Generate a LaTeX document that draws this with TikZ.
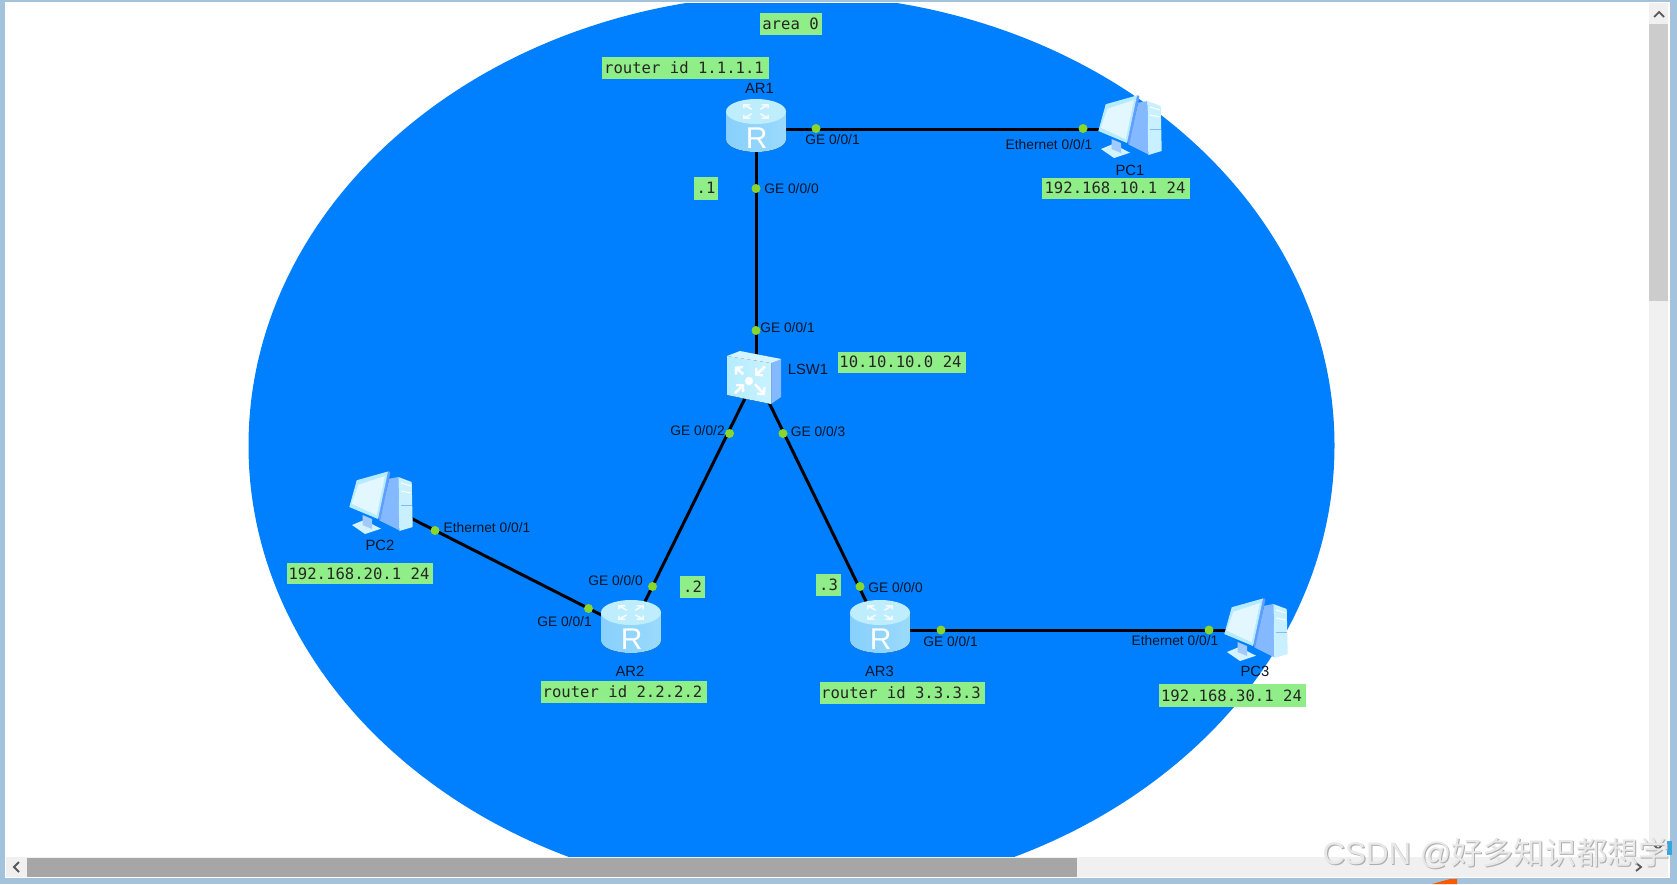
\documentclass[tikz,border=0pt]{standalone}
\usepackage{fontspec}
\setmainfont{Liberation Sans}
\newfontfamily\monof{DejaVu Sans Mono}
\newfontfamily\cjkf{Noto Sans CJK SC}
\usetikzlibrary{calc,arrows.meta}
\definecolor{winblue}{HTML}{A3C2DC}
\definecolor{skyb}{HTML}{0080FF}
\definecolor{tagg}{HTML}{90EE88}
\definecolor{dotg}{HTML}{8AD62A}
\definecolor{inkc}{HTML}{0A1526}
\definecolor{iceA}{HTML}{88D0FC}
\definecolor{iceB}{HTML}{B4ECFF}
\definecolor{iceC}{HTML}{9ADAFC}
\definecolor{iceT}{HTML}{BEEDFD}
\definecolor{paleS}{HTML}{E2F7FF}
\definecolor{frameC}{HTML}{B5EAFF}
\definecolor{sideB}{HTML}{84B9FF}
\definecolor{edgeB}{HTML}{5F9EFF}
\definecolor{frontC}{HTML}{C8F0FF}
\tikzset{
  x=1pt,y=-1pt,
  tag/.style={fill=tagg,draw=none,font=\monof\fontsize{15.6}{16}\selectfont,text=black!85,inner sep=0pt,anchor=center},
  port/.style={font=\fontsize{13.8}{14}\selectfont,text=inkc,inner sep=0pt,anchor=center},
  devname/.style={font=\fontsize{14.8}{15}\selectfont,text=inkc,inner sep=0pt,anchor=center},
  portdot/.style={circle,fill=dotg,draw=none,minimum size=9pt,inner sep=0pt},
  link/.style={line width=3pt,draw=black},
  router/.pic={
    \fill[left color=iceA,middle color=iceB,right color=iceC]
       (-30,-17.5) -- (-30,10.5) arc[start angle=180,end angle=360,x radius=30pt,y radius=12.5pt] -- (30,-17.5) -- cycle;
    \fill[iceT] (0,-17.5) ellipse[x radius=30pt,y radius=12.5pt];
    \foreach \a in {45,135,225,315}{
      \begin{scope}[shift={(0,-17.5)},yscale=.55,rotate=\a]
        \draw[white!85!iceT,line width=1.5pt] (6,0) -- (17,0) (12.5,-4.5) -- (17,0) -- (12.5,4.5);
      \end{scope}
    }
    \node[inner sep=0pt,text=white,font=\fontsize{30}{30}\selectfont] at (0.7,9) {R};
  },
  pcicon/.pic={
    \fill[sideB] (8.3,-24.3) -- (17.3,-26) -- (18.3,27.3) -- (-1.7,17.3) -- cycle;
    \fill[frontC] (17.3,-26) -- (30.7,-21) -- (31.7,24) -- (18.3,28) -- cycle;
    \draw[white,line width=1pt] (20,-20) -- (30,-17) (20,-12) -- (30,-10);
    \draw[sideB,line width=.8pt] (20,2) -- (31,2);
    \fill[frontC!80!white] (-29,22) -- (-17,17) -- (0,25.7) -- (-16,31) -- cycle;
    \fill[sideB!75!white] (-18.5,12) -- (-9,16) -- (-9,26) -- (-18.5,22) -- cycle;
    \fill[edgeB] (-24.3,-22.7) -- (8.3,-31.7) -- (9.3,-30) -- (-0.7,17) -- (-1.7,16.3) -- cycle;
    \fill[frameC] (-24.3,-22.7) -- (7,-31.5) -- (-3,16) -- (-31.7,4) -- cycle;
    \fill[paleS] (-22.7,-18.3) -- (4,-27) -- (-4.3,12.3) -- (-29.3,.7) -- cycle;
  }
}
\begin{document}
\begin{tikzpicture}
\useasboundingbox (0,0) rectangle (1677,884);
\fill[winblue] (0,0) rectangle (1677,884);
\fill[white] (5,2) rectangle (1670,878);
\begin{scope}
  \clip (6,3) rectangle (1649,857);
  \fill[skyb] (791.5,445.5) ellipse[x radius=543pt,y radius=451pt];
\end{scope}
% scrollbars
\fill[black!6] (1649,3) rectangle (1668,857);
\fill[black!6] (6,857) rectangle (1668,877);
\fill[black!20] (1649,24) rectangle (1668,301);
\fill[black!35] (27,858) rectangle (1077,877);
\draw[black!65,line width=1.8pt] (1654,17) -- (1659,12) -- (1664,17);
\draw[black!65,line width=1.8pt] (19,862) -- (14,867) -- (19,872);
\draw[black!65,line width=1.8pt] (1636,863) -- (1641,867) -- (1636,871);
\draw[black!65,line width=1.8pt] (1654,845) -- (1658,849) -- (1662,845);
\fill[cyan!80!blue!80] (1667,841) rectangle (1672,855);
\fill[orange!70!red] (1432,884) -- (1450,879) -- (1457,879) -- (1457,884) -- cycle;

% device anchors
\coordinate (ar1) at (756,129);
\coordinate (ar2) at (631,630);
\coordinate (ar3) at (880,630);
\coordinate (lsw) at (756,376);
\coordinate (pc1) at (1130,127);
\coordinate (pc2) at (381,503);
\coordinate (pc3) at (1256,630);

% links
\draw[link] (ar1) -- (pc1 |- ar1);
\draw[link] (ar1) -- (lsw);
\draw[link] (lsw) -- (ar2);
\draw[link] (lsw) -- (ar3);
\draw[link] (pc2) -- (ar2);
\draw[link] (ar3) -- (pc3);

% devices
\pic at (ar1) {router};
\pic at (ar2) {router};
\pic at (ar3) {router};
\pic at (pc1) {pcicon};
\pic at (pc2) {pcicon};
\pic at (pc3) {pcicon};
% switch
\begin{scope}[shift={(lsw)}]
  \fill[sideB] (13,-19) -- (25,-17) -- (25,21) -- (15,28) -- cycle;
  \fill[left color=iceB,right color=iceB!70!white] (-29,-20) -- (15,-13) -- (15,28) -- (-29,19) -- cycle;
  \fill[paleS!70!iceB] (-29,-20) -- (-16,-25) -- (25,-17) -- (15,-13) -- cycle;
  \fill[white] (-7,5) circle (4.2pt);
  \draw[white,line width=2.6pt,-{Straight Barb[length=4.5pt,width=10pt,line width=2.4pt]}] (-12.7,-1.7) -- (-21,-9.3);
  \draw[white,line width=2.6pt,-{Straight Barb[length=4.5pt,width=10pt,line width=2.4pt]}] (9,-9.3) -- (-1,-0.3);
  \draw[white,line width=2.6pt,-{Straight Barb[length=4.5pt,width=10pt,line width=2.4pt]}] (-21,17.3) -- (-12,8.3);
  \draw[white,line width=2.6pt,-{Straight Barb[length=4.5pt,width=10pt,line width=2.4pt]}] (-1,8.3) -- (9,19);
\end{scope}

% ports
\node[portdot] (d1) at (816,128.5) {};
\node[portdot] (d2) at (756,188.5) {};
\node[portdot] (d3) at (1083,128.5) {};
\node[portdot] (d4) at (756,330.5) {};
\node[portdot] (d5) at (729.5,433.5) {};
\node[portdot] (d6) at (783,433.5) {};
\node[portdot] (d7) at (652.5,586.5) {};
\node[portdot] (d8) at (860,586.5) {};
\node[portdot] (d9) at (588.5,608.5) {};
\node[portdot] (d10) at (435,530.5) {};
\node[portdot] (d11) at (941,630) {};
\node[portdot] (d12) at (1209,630) {};

\node[port] (p1) at (832.5,140) {GE 0/0/1};
\node[port] (p2) at (791.5,189) {GE 0/0/0};
\node[port] (p3) at (1049,145) {Ethernet 0/0/1};
\node[port] (p4) at (787.5,328) {GE 0/0/1};
\node[port] (p5) at (697.5,431) {GE 0/0/2};
\node[port] (p6) at (818,432) {GE 0/0/3};
\node[port] (p7) at (487,528) {Ethernet 0/0/1};
\node[port] (p8) at (615.5,581) {GE 0/0/0};
\node[port] (p9) at (564.5,622) {GE 0/0/1};
\node[port] (p10) at (895.5,588) {GE 0/0/0};
\node[port] (p11) at (950.5,642) {GE 0/0/1};
\node[port] (p12) at (1175,641) {Ethernet 0/0/1};

\node[devname] (n1) at (759.5,88) {AR1};
\node[devname] (n2) at (630,671) {AR2};
\node[devname] (n3) at (879.5,671) {AR3};
\node[devname] (n4) at (808,369.5) {LSW1};
\node[devname] (n5) at (1130,170) {PC1};
\node[devname] (n6) at (380,545.5) {PC2};
\node[devname] (n7) at (1255,671) {PC3};

% tags
\node[tag,minimum width=62pt,minimum height=22pt] (t1) at (791,24) {\hspace*{-1pt}area 0};
\node[tag,minimum width=167pt,minimum height=22pt] (t2) at (685.5,68) {\hspace*{-3pt}router id 1.1.1.1};
\node[tag,minimum width=24pt,minimum height=23pt] (t3) at (706,188) {.1};
\node[tag,minimum width=148pt,minimum height=21pt] (t4) at (1116,188) {\hspace*{-2pt}192.168.10.1 24};
\node[tag,minimum width=128pt,minimum height=21pt] (t5) at (902,362) {\hspace*{-3pt}10.10.10.0 24};
\node[tag,minimum width=146pt,minimum height=21pt] (t6) at (360,573.5) {\hspace*{-2pt}192.168.20.1 24};
\node[tag,minimum width=166pt,minimum height=22pt] (t7) at (624,692) {\hspace*{-3pt}router id 2.2.2.2};
\node[tag,minimum width=165pt,minimum height=22pt] (t8) at (902.5,693) {\hspace*{-3pt}router id 3.3.3.3};
\node[tag,minimum width=147pt,minimum height=23pt] (t9) at (1232.5,695.5) {\hspace*{-2pt}192.168.30.1 24};
\node[tag,minimum width=25pt,minimum height=22pt] (t10) at (692.5,587) {.2};
\node[tag,minimum width=25pt,minimum height=22pt] (t11) at (828.5,585) {.3};

% watermark
\node[inner sep=0pt,anchor=west,text=black!32,font=\fontsize{31.2}{32}\selectfont] (wm0) at (1323.6,854) {CSDN @{\cjkf 好多知识都想学}};
\node[inner sep=0pt,anchor=west,text=black!9,font=\fontsize{31.2}{32}\selectfont] (wm) at (1322.5,853) {CSDN @{\cjkf 好多知识都想学}};
\end{tikzpicture}
\end{document}
